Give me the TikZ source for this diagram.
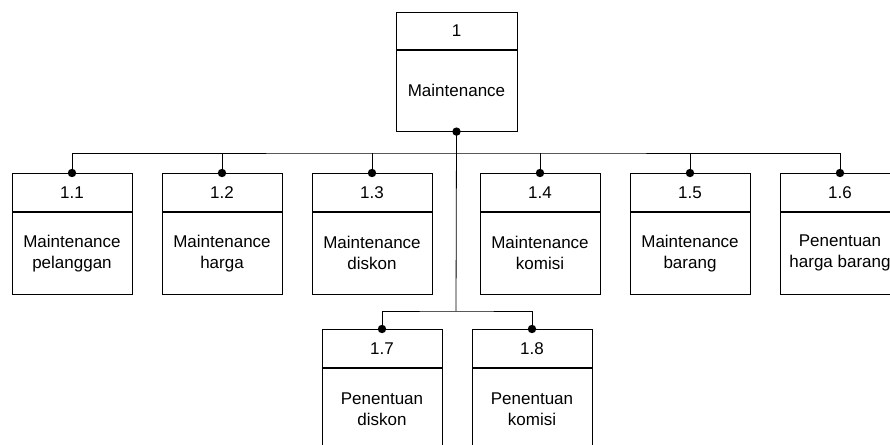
\documentclass[tikz,border=0pt]{standalone}
\usepackage{fontspec}
\setmainfont{Liberation Sans}
\begin{document}
\begin{tikzpicture}[x=1pt,y=-1pt,line width=0.8pt,
  headbox/.style={draw,rectangle,inner sep=0pt,minimum width=120pt,minimum height=38pt,
    anchor=north,font=\fontsize{17}{21}\selectfont},
  bodybox/.style={draw,rectangle,inner sep=0pt,minimum width=120pt,minimum height=82pt,
    anchor=north,align=center,font=\fontsize{17}{21}\selectfont},
  joint/.style={fill=black}]
\useasboundingbox (0,0) rectangle (890,444);
\clip (0,0) rectangle (890,444);

% root process
\node[headbox,minimum width=121pt,minimum height=37pt] (h0) at (456.5,12) {1};
\node[bodybox,minimum width=121pt,minimum height=81pt] (b0) at (h0.south) {Maintenance};

% first level, upper row
\node[headbox] (h1) at (72,173) {1.1};
\node[bodybox] (b1) at (h1.south) {Maintenance\\pelanggan};
\node[headbox] (h2) at (222,173) {1.2};
\node[bodybox] (b2) at (h2.south) {Maintenance\\harga};
\node[headbox] (h3) at (372,173) {1.3};
\node[bodybox] (b3) at (h3.south) {Maintenance\\diskon};
\node[headbox] (h4) at (540,173) {1.4};
\node[bodybox] (b4) at (h4.south) {Maintenance\\komisi};
\node[headbox] (h5) at (690,173) {1.5};
\node[bodybox] (b5) at (h5.south) {Maintenance\\barang};
\node[headbox] (h6) at (840,173) {1.6};
\node[bodybox] (b6) at (h6.south) {Penentuan\\harga barang};

% first level, lower row
\node[headbox] (h7) at (382,329) {1.7};
\node[bodybox] (b7) at (h7.south) {Penentuan\\diskon};
\node[headbox] (h8) at (532,329) {1.8};
\node[bodybox] (b8) at (h8.south) {Penentuan\\komisi};

% connectors
\coordinate (bus) at (456,153);
\coordinate (lowbus) at (456,311);
\draw (b0.south) -- (lowbus);
\draw (h1.north) |- (bus) -| (h6.north);
\foreach \n in {h2,h3,h4,h5} \draw (\n.north) -- (\n.north |- bus);
\draw (h7.north) |- (lowbus) -| (h8.north);

% junction dots
\foreach \n in {h1,h2,h3,h4,h5,h6,h7,h8} \fill[joint] (\n.north) circle (4.2pt);
\fill[joint] (b0.south) circle (4.2pt);
\end{tikzpicture}
\end{document}
